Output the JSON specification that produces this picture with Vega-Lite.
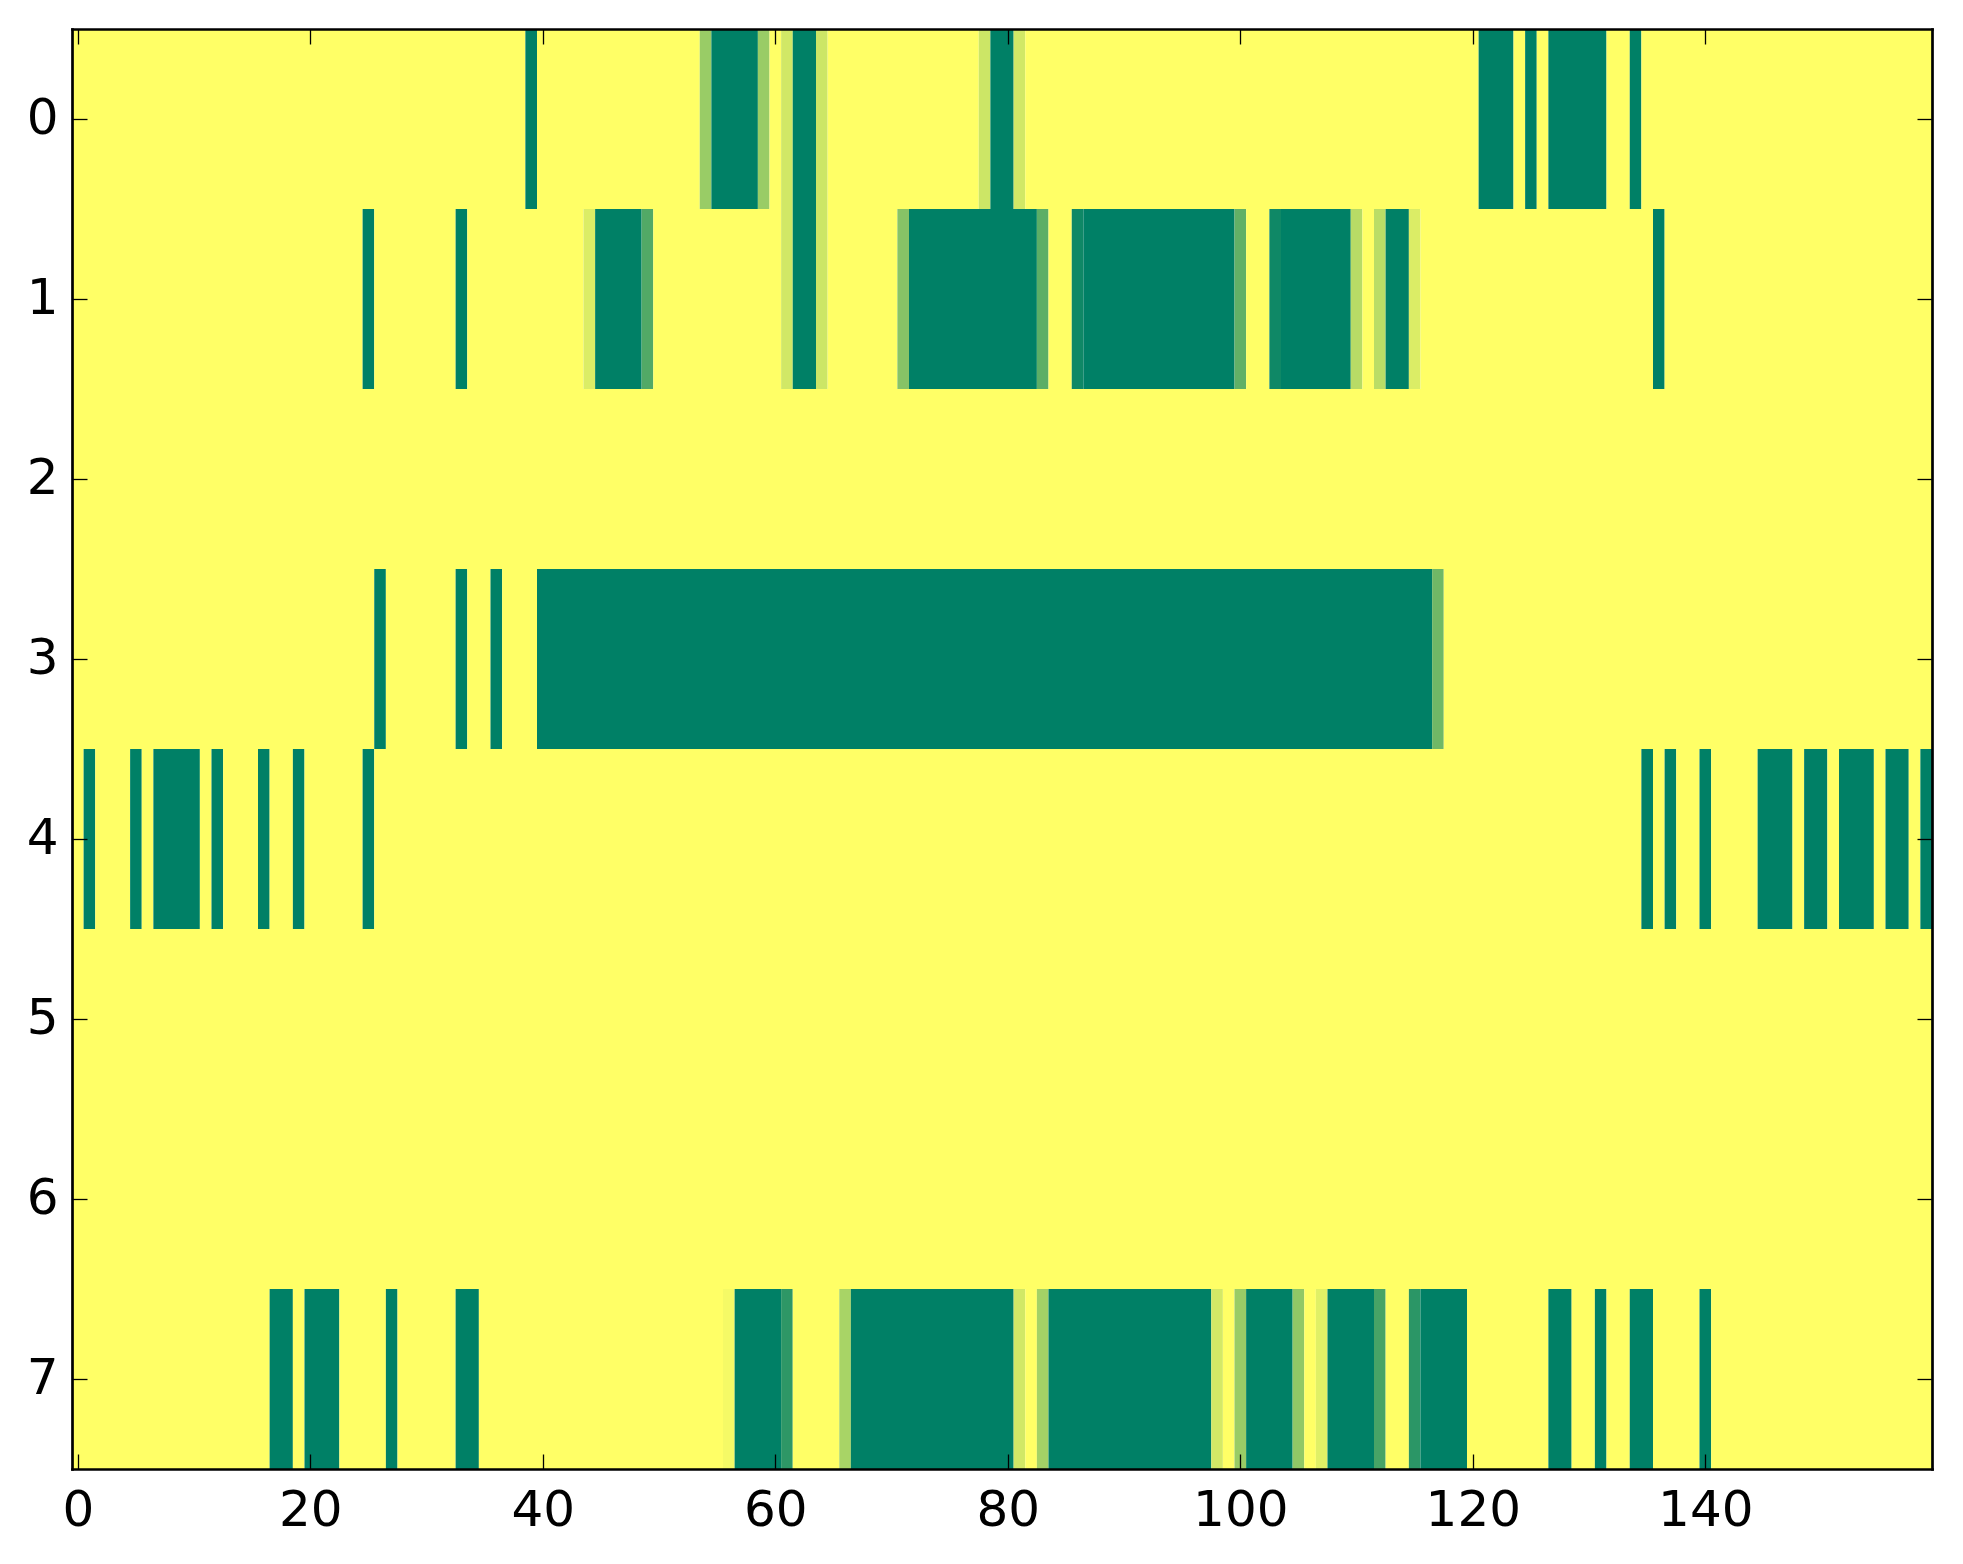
{
  "$schema": "https://vega.github.io/schema/vega-lite/v6.json",
  "description": "Heatmap of 8 rows by 160 columns, summer colour map",
  "width": 1860,
  "height": 1440,
  "autosize": {"type": "none"},
  "padding": {"left": 72, "top": 29, "right": 31, "bottom": 95},
  "background": "white",
  "config": {
    "view": {"stroke": null},
    "axis": {
      "grid": false,
      "domainColor": "black",
      "domainWidth": 2.7,
      "domainCap": "square",
      "tickColor": "black",
      "tickWidth": 1.3,
      "tickSize": -15,
      "labelFont": "DejaVu Sans",
      "labelFontSize": 50,
      "labelColor": "black"
    }
  },
  "data": {
    "values": [
      {"row": 0, "start": -0.5, "end": 38.5, "v": 1},
      {"row": 0, "start": 38.5, "end": 39.5, "v": 0},
      {"row": 0, "start": 39.5, "end": 53.5, "v": 1},
      {"row": 0, "start": 53.5, "end": 54.5, "v": 0.6},
      {"row": 0, "start": 54.5, "end": 58.5, "v": 0},
      {"row": 0, "start": 58.5, "end": 59.5, "v": 0.6},
      {"row": 0, "start": 59.5, "end": 60.5, "v": 1},
      {"row": 0, "start": 60.5, "end": 61.5, "v": 0.82},
      {"row": 0, "start": 61.5, "end": 63.5, "v": 0},
      {"row": 0, "start": 63.5, "end": 64.5, "v": 0.8},
      {"row": 0, "start": 64.5, "end": 77.5, "v": 1},
      {"row": 0, "start": 77.5, "end": 78.5, "v": 0.8},
      {"row": 0, "start": 78.5, "end": 80.5, "v": 0},
      {"row": 0, "start": 80.5, "end": 81.5, "v": 0.82},
      {"row": 0, "start": 81.5, "end": 120.5, "v": 1},
      {"row": 0, "start": 120.5, "end": 123.5, "v": 0},
      {"row": 0, "start": 123.5, "end": 124.5, "v": 1},
      {"row": 0, "start": 124.5, "end": 125.5, "v": 0},
      {"row": 0, "start": 125.5, "end": 126.5, "v": 1},
      {"row": 0, "start": 126.5, "end": 131.5, "v": 0},
      {"row": 0, "start": 131.5, "end": 133.5, "v": 1},
      {"row": 0, "start": 133.5, "end": 134.5, "v": 0},
      {"row": 0, "start": 134.5, "end": 159.5, "v": 1},

      {"row": 1, "start": -0.5, "end": 24.5, "v": 1},
      {"row": 1, "start": 24.5, "end": 25.5, "v": 0},
      {"row": 1, "start": 25.5, "end": 32.5, "v": 1},
      {"row": 1, "start": 32.5, "end": 33.5, "v": 0},
      {"row": 1, "start": 33.5, "end": 43.5, "v": 1},
      {"row": 1, "start": 43.5, "end": 44.5, "v": 0.86},
      {"row": 1, "start": 44.5, "end": 48.5, "v": 0},
      {"row": 1, "start": 48.5, "end": 49.5, "v": 0.32},
      {"row": 1, "start": 49.5, "end": 60.5, "v": 1},
      {"row": 1, "start": 60.5, "end": 61.5, "v": 0.82},
      {"row": 1, "start": 61.5, "end": 63.5, "v": 0},
      {"row": 1, "start": 63.5, "end": 64.5, "v": 0.8},
      {"row": 1, "start": 64.5, "end": 70.5, "v": 1},
      {"row": 1, "start": 70.5, "end": 71.5, "v": 0.53},
      {"row": 1, "start": 71.5, "end": 82.5, "v": 0},
      {"row": 1, "start": 82.5, "end": 83.5, "v": 0.36},
      {"row": 1, "start": 83.5, "end": 85.5, "v": 1},
      {"row": 1, "start": 85.5, "end": 86.5, "v": 0.06},
      {"row": 1, "start": 86.5, "end": 99.5, "v": 0},
      {"row": 1, "start": 99.5, "end": 100.5, "v": 0.38},
      {"row": 1, "start": 100.5, "end": 102.5, "v": 1},
      {"row": 1, "start": 102.5, "end": 103.5, "v": 0.06},
      {"row": 1, "start": 103.5, "end": 109.5, "v": 0},
      {"row": 1, "start": 109.5, "end": 110.5, "v": 0.72},
      {"row": 1, "start": 110.5, "end": 111.5, "v": 1},
      {"row": 1, "start": 111.5, "end": 112.5, "v": 0.73},
      {"row": 1, "start": 112.5, "end": 114.5, "v": 0},
      {"row": 1, "start": 114.5, "end": 115.5, "v": 0.86},
      {"row": 1, "start": 115.5, "end": 135.5, "v": 1},
      {"row": 1, "start": 135.5, "end": 136.5, "v": 0},
      {"row": 1, "start": 136.5, "end": 159.5, "v": 1},

      {"row": 2, "start": -0.5, "end": 159.5, "v": 1},

      {"row": 3, "start": -0.5, "end": 25.5, "v": 1},
      {"row": 3, "start": 25.5, "end": 26.5, "v": 0},
      {"row": 3, "start": 26.5, "end": 32.5, "v": 1},
      {"row": 3, "start": 32.5, "end": 33.5, "v": 0},
      {"row": 3, "start": 33.5, "end": 35.5, "v": 1},
      {"row": 3, "start": 35.5, "end": 36.5, "v": 0},
      {"row": 3, "start": 36.5, "end": 39.5, "v": 1},
      {"row": 3, "start": 39.5, "end": 116.5, "v": 0},
      {"row": 3, "start": 116.5, "end": 117.5, "v": 0.44},
      {"row": 3, "start": 117.5, "end": 159.5, "v": 1},

      {"row": 4, "start": -0.5, "end": 0.5, "v": 1},
      {"row": 4, "start": 0.5, "end": 1.5, "v": 0},
      {"row": 4, "start": 1.5, "end": 4.5, "v": 1},
      {"row": 4, "start": 4.5, "end": 5.5, "v": 0},
      {"row": 4, "start": 5.5, "end": 6.5, "v": 1},
      {"row": 4, "start": 6.5, "end": 10.5, "v": 0},
      {"row": 4, "start": 10.5, "end": 11.5, "v": 1},
      {"row": 4, "start": 11.5, "end": 12.5, "v": 0},
      {"row": 4, "start": 12.5, "end": 15.5, "v": 1},
      {"row": 4, "start": 15.5, "end": 16.5, "v": 0},
      {"row": 4, "start": 16.5, "end": 18.5, "v": 1},
      {"row": 4, "start": 18.5, "end": 19.5, "v": 0},
      {"row": 4, "start": 19.5, "end": 24.5, "v": 1},
      {"row": 4, "start": 24.5, "end": 25.5, "v": 0},
      {"row": 4, "start": 25.5, "end": 134.5, "v": 1},
      {"row": 4, "start": 134.5, "end": 135.5, "v": 0},
      {"row": 4, "start": 135.5, "end": 136.5, "v": 1},
      {"row": 4, "start": 136.5, "end": 137.5, "v": 0},
      {"row": 4, "start": 137.5, "end": 139.5, "v": 1},
      {"row": 4, "start": 139.5, "end": 140.5, "v": 0},
      {"row": 4, "start": 140.5, "end": 144.5, "v": 1},
      {"row": 4, "start": 144.5, "end": 147.5, "v": 0},
      {"row": 4, "start": 147.5, "end": 148.5, "v": 1},
      {"row": 4, "start": 148.5, "end": 150.5, "v": 0},
      {"row": 4, "start": 150.5, "end": 151.5, "v": 1},
      {"row": 4, "start": 151.5, "end": 154.5, "v": 0},
      {"row": 4, "start": 154.5, "end": 155.5, "v": 1},
      {"row": 4, "start": 155.5, "end": 157.5, "v": 0},
      {"row": 4, "start": 157.5, "end": 158.5, "v": 1},
      {"row": 4, "start": 158.5, "end": 159.5, "v": 0},

      {"row": 5, "start": -0.5, "end": 159.5, "v": 1},
      {"row": 6, "start": -0.5, "end": 159.5, "v": 1},

      {"row": 7, "start": -0.5, "end": 16.5, "v": 1},
      {"row": 7, "start": 16.5, "end": 18.5, "v": 0},
      {"row": 7, "start": 18.5, "end": 19.5, "v": 1},
      {"row": 7, "start": 19.5, "end": 22.5, "v": 0},
      {"row": 7, "start": 22.5, "end": 26.5, "v": 1},
      {"row": 7, "start": 26.5, "end": 27.5, "v": 0},
      {"row": 7, "start": 27.5, "end": 32.5, "v": 1},
      {"row": 7, "start": 32.5, "end": 34.5, "v": 0},
      {"row": 7, "start": 34.5, "end": 55.5, "v": 1},
      {"row": 7, "start": 55.5, "end": 56.5, "v": 0.96},
      {"row": 7, "start": 56.5, "end": 60.5, "v": 0},
      {"row": 7, "start": 60.5, "end": 61.5, "v": 0.18},
      {"row": 7, "start": 61.5, "end": 65.5, "v": 1},
      {"row": 7, "start": 65.5, "end": 66.5, "v": 0.66},
      {"row": 7, "start": 66.5, "end": 80.5, "v": 0},
      {"row": 7, "start": 80.5, "end": 81.5, "v": 0.82},
      {"row": 7, "start": 81.5, "end": 82.5, "v": 1},
      {"row": 7, "start": 82.5, "end": 83.5, "v": 0.64},
      {"row": 7, "start": 83.5, "end": 97.5, "v": 0},
      {"row": 7, "start": 97.5, "end": 98.5, "v": 0.83},
      {"row": 7, "start": 98.5, "end": 99.5, "v": 1},
      {"row": 7, "start": 99.5, "end": 100.5, "v": 0.6},
      {"row": 7, "start": 100.5, "end": 104.5, "v": 0},
      {"row": 7, "start": 104.5, "end": 105.5, "v": 0.57},
      {"row": 7, "start": 105.5, "end": 106.5, "v": 1},
      {"row": 7, "start": 106.5, "end": 107.5, "v": 0.88},
      {"row": 7, "start": 107.5, "end": 111.5, "v": 0},
      {"row": 7, "start": 111.5, "end": 112.5, "v": 0.28},
      {"row": 7, "start": 112.5, "end": 114.5, "v": 1},
      {"row": 7, "start": 114.5, "end": 115.5, "v": 0.17},
      {"row": 7, "start": 115.5, "end": 119.5, "v": 0},
      {"row": 7, "start": 119.5, "end": 126.5, "v": 1},
      {"row": 7, "start": 126.5, "end": 128.5, "v": 0},
      {"row": 7, "start": 128.5, "end": 130.5, "v": 1},
      {"row": 7, "start": 130.5, "end": 131.5, "v": 0},
      {"row": 7, "start": 131.5, "end": 133.5, "v": 1},
      {"row": 7, "start": 133.5, "end": 135.5, "v": 0},
      {"row": 7, "start": 135.5, "end": 139.5, "v": 1},
      {"row": 7, "start": 139.5, "end": 140.5, "v": 0},
      {"row": 7, "start": 140.5, "end": 159.5, "v": 1}
    ]
  },
  "layer": [
    {
      "mark": {"type": "rect", "strokeWidth": 0},
      "encoding": {
        "x": {
          "field": "start",
          "type": "quantitative",
          "scale": {"domain": [-0.5, 159.5], "nice": false, "zero": false},
          "axis": {"orient": "bottom", "zindex": 1, "values": [0, 20, 40, 60, 80, 100, 120, 140], "labelPadding": 31, "title": null}
        },
        "x2": {"field": "end"},
        "y": {
          "field": "row",
          "type": "ordinal",
          "scale": {"domain": [0, 1, 2, 3, 4, 5, 6, 7], "paddingInner": 0, "paddingOuter": 0},
          "axis": {"orient": "left", "zindex": 1, "labelPadding": 29, "labelAngle": 0, "title": null}
        },
        "color": {
          "field": "v",
          "type": "quantitative",
          "scale": {"domain": [0, 1], "range": ["#008066", "#ffff66"], "interpolate": "rgb"},
          "legend": null
        }
      }
    },
    {
      "mark": {"type": "rect", "opacity": 0},
      "encoding": {
        "x": {
          "field": "start",
          "type": "quantitative",
          "axis": {"orient": "top", "zindex": 1, "values": [0, 20, 40, 60, 80, 100, 120, 140], "labels": false, "title": null}
        },
        "x2": {"field": "end"},
        "y": {
          "field": "row",
          "type": "ordinal",
          "axis": {"orient": "right", "zindex": 1, "labels": false, "title": null}
        }
      }
    }
  ],
  "resolve": {"axis": {"x": "independent", "y": "independent"}}
}
